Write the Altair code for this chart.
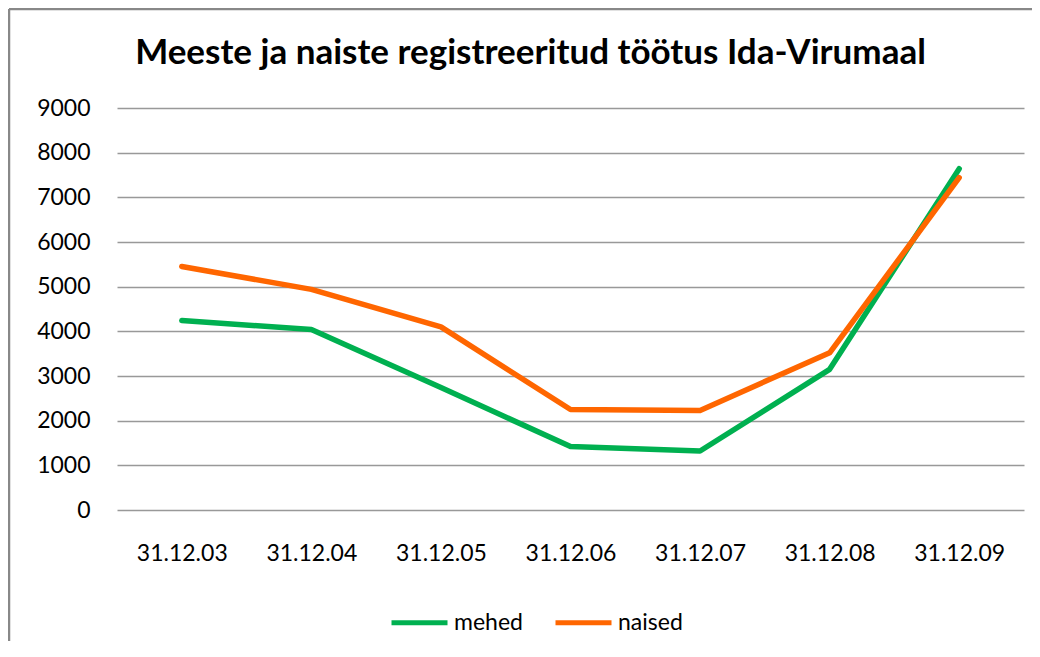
import altair as alt
import pandas as pd

categories = ["31.12.03", "31.12.04", "31.12.05", "31.12.06", "31.12.07", "31.12.08", "31.12.09"]
mehed = [4240, 4040, 2740, 1420, 1320, 3150, 7640]
naised = [5450, 4940, 4100, 2250, 2230, 3520, 7440]
series_names = ["mehed", "naised"]
series_colors = ["#00B050", "#FF6600"]
y_ticks = [0, 1000, 2000, 3000, 4000, 5000, 6000, 7000, 8000, 9000]

rows = []
for name, vals in zip(series_names, [mehed, naised]):
    for c, v in zip(categories, vals):
        rows.append({"kuupäev": c, "sari": name, "väärtus": v})
df = pd.DataFrame(rows)

FONT = "Lato"

lines = alt.Chart(df).mark_line(strokeWidth=5.5, strokeCap="round", strokeJoin="round").encode(
    x=alt.X("kuupäev:N", sort=categories, scale=alt.Scale(paddingOuter=0.5, paddingInner=0),
            axis=alt.Axis(title=None, labelAngle=0, ticks=False, domain=False, grid=False,
                          labelPadding=32, labelFontSize=23, labelFont=FONT, labelColor="#000000")),
    y=alt.Y("väärtus:Q", scale=alt.Scale(domain=[0, 9000], nice=False),
            axis=alt.Axis(title=None, values=y_ticks, format="d", ticks=False, domain=False,
                          labelPadding=27, labelFontSize=23, labelFont=FONT, labelColor="#000000",
                          gridColor="#999999", gridWidth=1.3)),
    color=alt.Color("sari:N", scale=alt.Scale(domain=series_names, range=series_colors),
                    legend=alt.Legend(title=None, orient="none", legendX=272, legendY=484,
                                      direction="horizontal", symbolType="stroke",
                                      symbolSize=3136, symbolStrokeWidth=5,
                                      labelFontSize=23, labelFont=FONT, labelColor="#000000",
                                      labelOffset=4, columnPadding=22, padding=0)),
)

frame_src = alt.Data(values=[{"a": 1}])
frame_left = alt.Chart(frame_src).mark_rule(stroke="#888888", strokeWidth=2.5).encode(
    x=alt.value(-108), y=alt.value(-99), y2=alt.value(540)
)
frame_top = alt.Chart(frame_src).mark_rule(stroke="#888888", strokeWidth=2.5).encode(
    x=alt.value(-108), x2=alt.value(915), y=alt.value(-99)
)

chart = alt.layer(frame_left, frame_top, lines).properties(
    width=907, height=402,
    autosize=alt.AutoSizeParams(type="none"),
    padding={"left": 109, "top": 100, "right": 8, "bottom": 131},
    background="#ffffff",
    title=alt.TitleParams("Meeste ja naiste registreeritud töötus Ida-Virumaal",
                          font=FONT, fontSize=35, fontWeight="bold", color="#000000",
                          anchor="middle", dx=-40, offset=-63),
).configure_view(strokeWidth=0)

chart.save("out.html", embed_options={"renderer": "svg", "actions": False})
